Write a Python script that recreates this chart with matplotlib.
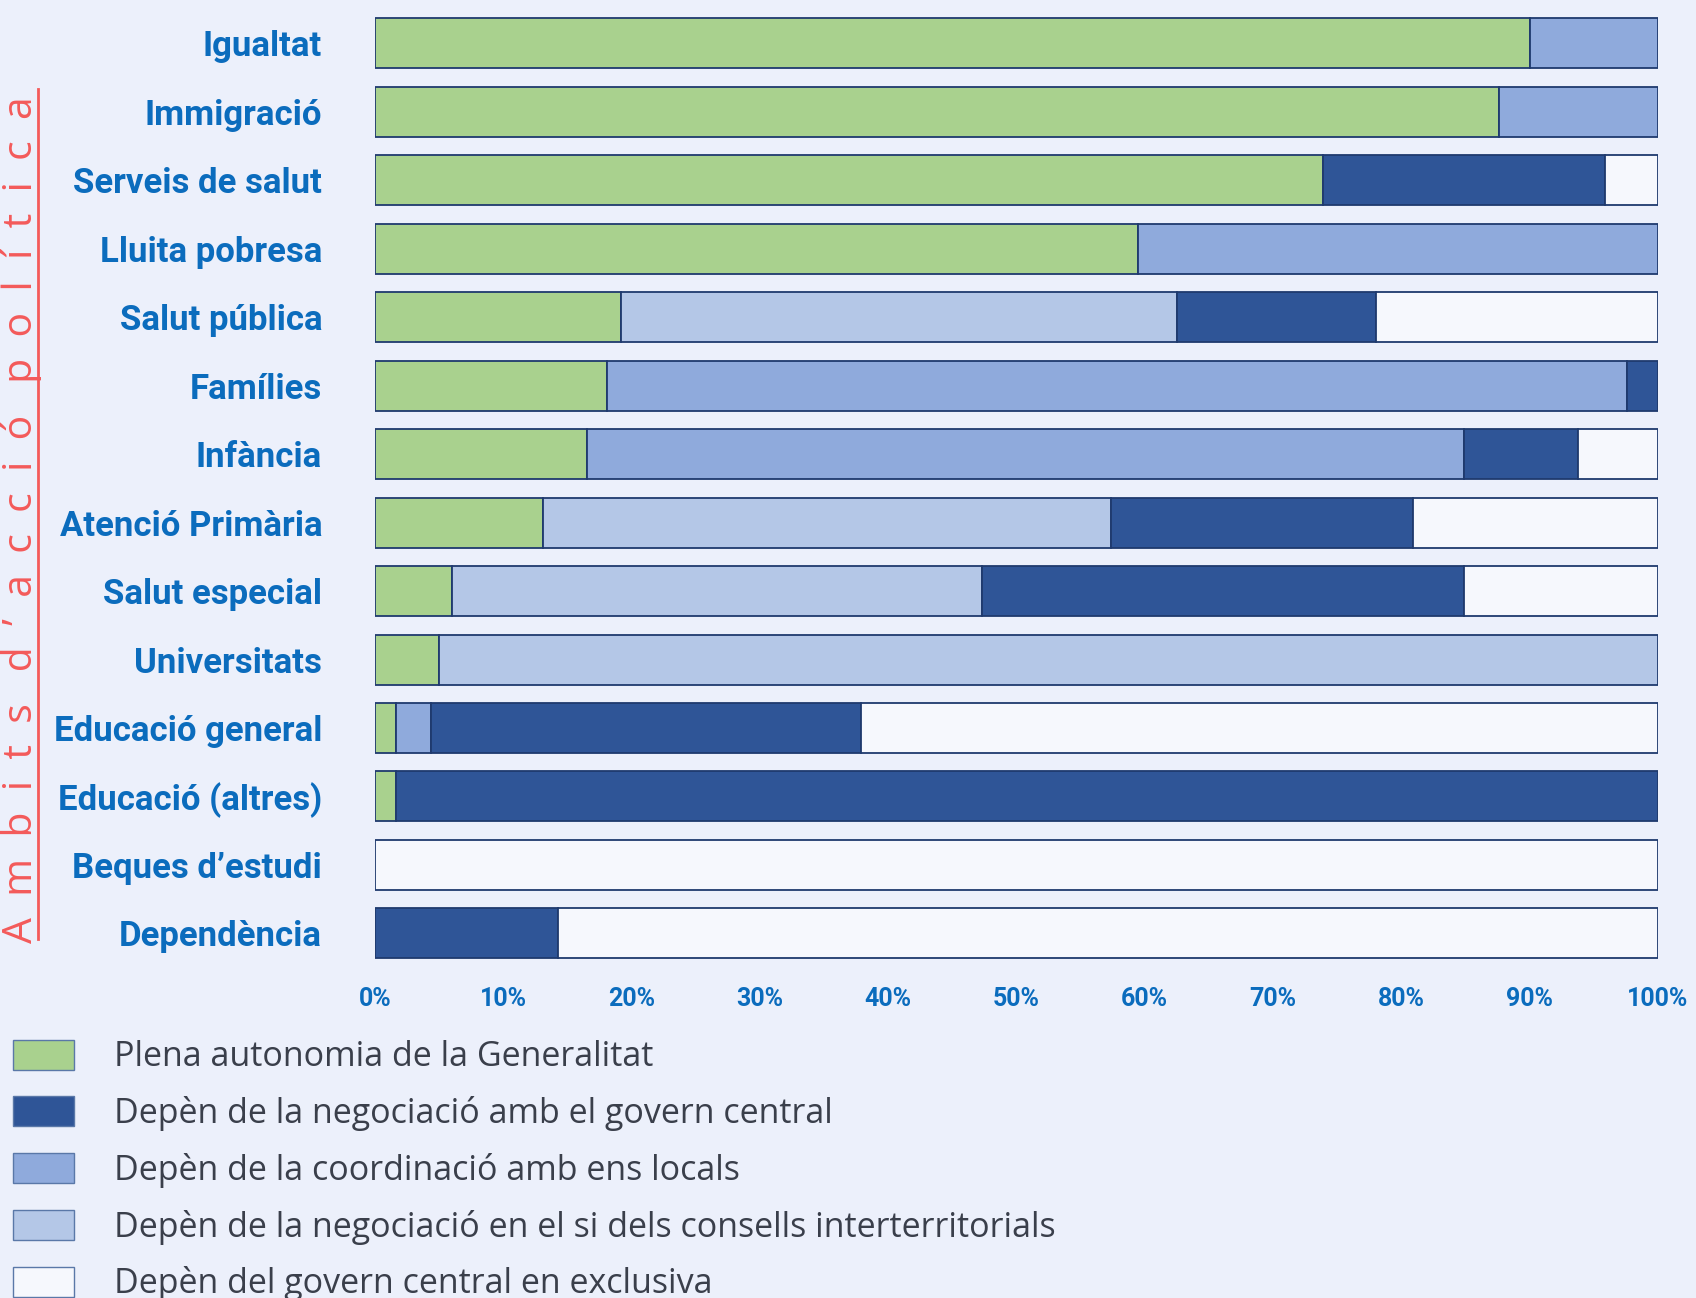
import matplotlib
matplotlib.use("Agg")
import matplotlib.pyplot as plt
import numpy as np
from matplotlib.patches import Patch

categories = ["Igualtat", "Immigració", "Serveis de salut", "Lluita pobresa",
              "Salut pública", "Famílies", "Infància", "Atenció Primària",
              "Salut especial", "Universitats", "Educació general",
              "Educació (altres)", "Beques d’estudi", "Dependència"]

series_names = ["Plena autonomia de la Generalitat",
                "Depèn de la negociació amb el govern central",
                "Depèn de la coordinació amb ens locals",
                "Depèn de la negociació en el si dels consells interterritorials",
                "Depèn del govern central en exclusiva"]

# values in %, per category
autonomia      = [90.0, 87.6, 73.9, 59.5, 19.2, 18.1, 16.5, 13.1, 6.0, 5.0, 1.6, 1.6, 0.0, 0.0]
central_neg    = [0.0, 0.0, 22.0, 0.0, 15.5, 2.4, 8.9, 23.5, 37.6, 0.0, 33.5, 98.4, 0.0, 14.3]
ens_locals     = [10.0, 12.4, 0.0, 40.5, 0.0, 79.5, 68.4, 0.0, 0.0, 0.0, 2.8, 0.0, 0.0, 0.0]
interterr      = [0.0, 0.0, 0.0, 0.0, 43.3, 0.0, 0.0, 44.3, 41.3, 95.0, 0.0, 0.0, 0.0, 0.0]
central_excl   = [0.0, 0.0, 4.1, 0.0, 22.0, 0.0, 6.2, 19.1, 15.1, 0.0, 62.1, 0.0, 100.0, 85.7]

# drawing order of segments in each bar (left to right), as series indices
order_per_bar = [
    [0, 2], [0, 2], [0, 1, 4], [0, 2], [0, 3, 1, 4], [0, 2, 1], [0, 2, 1, 4],
    [0, 3, 1, 4], [0, 3, 1, 4], [0, 3], [0, 2, 1, 4], [0, 1], [4], [1, 4]]

xticks = [0, 10, 20, 30, 40, 50, 60, 70, 80, 90, 100]
xtick_labels = [f"{v}%" for v in xticks]

colors = ["#A9D18E", "#2F5597", "#8FAADC", "#B4C7E7", "#F6F8FD"]
edge = "#1F3A6E"
bg = "#ECF0FB"
label_blue = "#0B6CBD"

series = [autonomia, central_neg, ens_locals, interterr, central_excl]

fig = plt.figure(figsize=(16.96, 12.98), dpi=100, facecolor=bg)
ax = fig.add_axes([0.2211, 0.2545, 0.7565, 0.7385], facecolor=bg)

y = np.arange(len(categories))
for i in range(len(categories)):
    left = 0.0
    for s in order_per_bar[i]:
        w = series[s][i]
        if w <= 0:
            continue
        ax.barh(y[i], w, left=left, height=0.73, color=colors[s],
                edgecolor=edge, linewidth=1.3)
        left += w

ax.set_xlim(0, 100)
ax.set_ylim(len(categories) - 0.5, -0.5)
for sp in ax.spines.values():
    sp.set_visible(False)

label_font = ['Roboto', 'DejaVu Sans']
ax.set_yticks(y)
ax.set_yticklabels(categories, fontsize=25, fontweight='bold', color=label_blue,
                   family=label_font)
ax.set_xticks(xticks)
ax.set_xticklabels(xtick_labels, fontsize=18, fontweight='bold', color=label_blue,
                   family=label_font)
ax.tick_params(axis='y', length=0, pad=38)
ax.tick_params(axis='x', length=0, pad=14)

# legend
handles = [Patch(facecolor=colors[k], edgecolor='#5A78A8', linewidth=1.0)
           for k in range(len(series_names))]
leg = fig.legend(handles, series_names, loc='upper left',
                 bbox_to_anchor=(0.0077, 0.199), frameon=False,
                 handlelength=1.79, handleheight=0.98,
                 handletextpad=1.17, labelspacing=0.64, borderpad=0,
                 borderaxespad=0,
                 prop={'family': ['Open Sans', 'DejaVu Sans'], 'size': 24.5})
for t in leg.get_texts():
    t.set_color('#3A3F4B')

# vertical axis title with spaced letters and an underline
title = "A  m  b  i  t  s   d  ’  a  c  c  i  ó   p  o  l  í  t  i  c  a"
fig.text(0.0125, 0.5998, title, rotation=90, ha='center', va='center',
         fontsize=29.5, color='#F45A5A', fontweight='normal',
         family=['Open Sans', 'DejaVu Sans'])
fig.add_artist(plt.Line2D([0.0224, 0.0224], [1 - 939 / 1298, 1 - 89 / 1298],
                          transform=fig.transFigure, color='#F45A5A', linewidth=2))

fig.savefig("out.png", dpi=100, facecolor=bg)
